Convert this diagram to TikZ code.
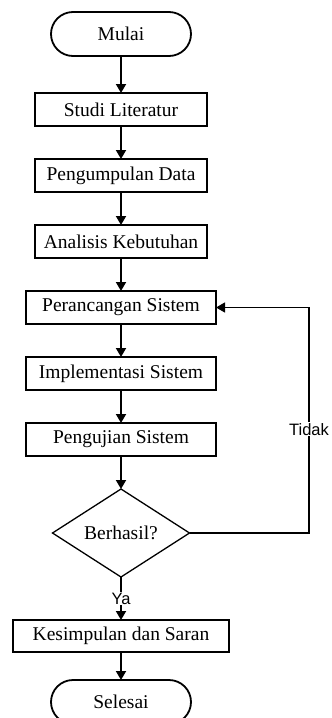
\documentclass[tikz,border=0pt]{standalone}
\usepackage{fontspec}
\setmainfont{Liberation Serif}
\setsansfont{Liberation Sans}
\usetikzlibrary{positioning,arrows.meta,shapes.geometric}

\begin{document}
\begin{tikzpicture}[
    node distance=33pt,
    box/.style={rectangle, draw, line width=1.3pt, minimum height=33pt,
                outer sep=0pt, text centered, font=\fontsize{19.5}{22}\selectfont},
    term/.style={rectangle, draw, rounded corners=22pt, line width=1.8pt,
                 outer sep=0pt, minimum width=140pt, minimum height=44pt,
                 font=\fontsize{19.5}{22}\selectfont},
    decision/.style={diamond, draw, line width=1.3pt, aspect=1.56, inner sep=0pt,
                     outer sep=0pt, minimum width=137pt, minimum height=88pt,
                     font=\fontsize{19.5}{22}\selectfont},
    arrow/.style={-{Triangle[length=9pt, width=10pt]}, line width=1.8pt},
    lbl/.style={fill=white, inner sep=1pt, font=\sffamily\fontsize{16.5}{18}\selectfont},
]
\useasboundingbox (0,0) rectangle (332pt,-718pt);

% Start and study steps
\node[term] (mulai) at (121pt,-34pt) {Mulai};
\node[box, minimum width=172pt, below=37pt of mulai] (studi) {Studi Literatur};
\node[box, minimum width=172pt, below=of studi] (data) {Pengumpulan Data};
\node[box, minimum width=172pt, below=of data] (analisis) {Analisis Kebutuhan};

% System steps
\node[box, minimum width=190pt, below=of analisis] (rancang) {Perancangan Sistem};
\node[box, minimum width=190pt, below=of rancang] (impl) {Implementasi Sistem};
\node[box, minimum width=190pt, below=of impl] (uji) {Pengujian Sistem};

% Decision and end
\node[decision, below=of uji] (cek) {Berhasil?};
\node[box, minimum width=216pt, minimum height=32pt, below=43pt of cek] (simpul) {Kesimpulan dan Saran};
\node[term, below=28pt of simpul] (selesai) {Selesai};

\coordinate[right=93pt of rancang] (balik);

% Arrows
\draw[arrow] (mulai) -- (studi);
\draw[arrow] (studi) -- (data);
\draw[arrow] (data) -- (analisis);
\draw[arrow] (analisis) -- (rancang);
\draw[arrow] (rancang) -- (impl);
\draw[arrow] (impl) -- (uji);
\draw[arrow] (uji) -- (cek);
\draw[arrow] (cek) -- node[lbl] {Ya} (simpul);
\draw[arrow] (simpul) -- (selesai);
\draw[arrow, line width=1.3pt] (cek.east) -| node[lbl, pos=0.73] {Tidak} (balik) -- (rancang.east);
\end{tikzpicture}
\end{document}
